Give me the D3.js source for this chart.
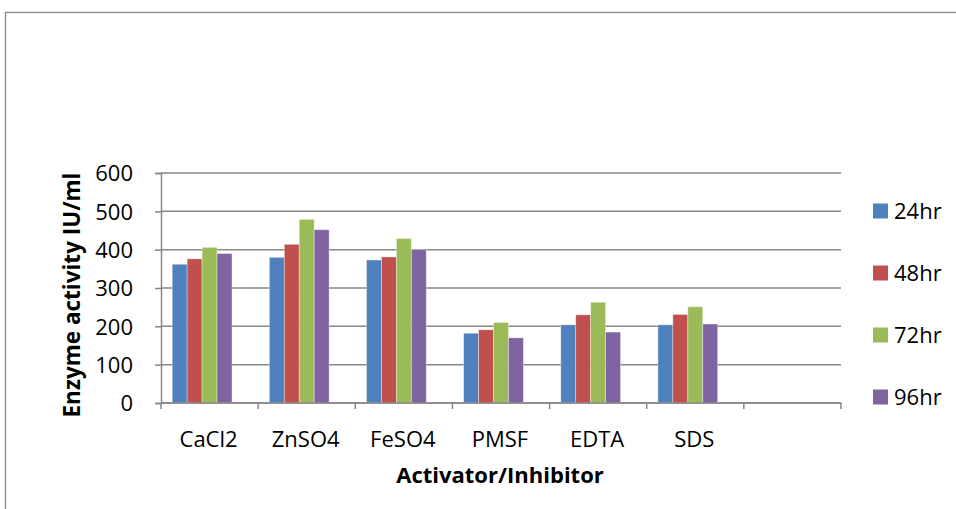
<!DOCTYPE html>
<html>
<head>
<meta charset="utf-8">
<script src="https://cdn.jsdelivr.net/npm/d3@7"></script>
<style>
  html, body { margin: 0; padding: 0; background: #fff; }
  svg { display: block; }
  text { font-family: "Open Sans", "Noto Sans", sans-serif; fill: #000; }
</style>
</head>
<body>
<svg id="chart" width="956" height="509"></svg>
<script>
// Enzyme activity (IU/ml) by activator/inhibitor and incubation time
const categories = ["CaCl2", "ZnSO4", "FeSO4", "PMSF", "EDTA", "SDS", ""];
const seriesNames = ["24hr", "48hr", "72hr", "96hr"];
const values24 = [362, 380, 373, 182, 204, 204];
const values48 = [376, 414, 381, 191, 230, 231];
const values72 = [406, 479, 429, 210, 263, 251];
const values96 = [390, 452, 400, 170, 185, 206];
const yTicks = [0, 100, 200, 300, 400, 500, 600];
const colors = ["#4F81BD", "#C0504D", "#9BBB59", "#8064A2"];

const seriesValues = [values24, values48, values72, values96];

const svg = d3.select("#chart");
const W = 956, H = 509;

// outer chart frame
svg.append("rect")
  .attr("x", 5.5).attr("y", 12.5)
  .attr("width", W + 10).attr("height", H + 10)
  .attr("fill", "none").attr("stroke", "#8a8a8a").attr("stroke-width", 1.3);

const plot = { left: 161, right: 841, top: 173, bottom: 403 };

const y = d3.scaleLinear().domain([0, 600]).range([plot.bottom, plot.top]);
const x0 = d3.scaleBand().domain(categories).range([plot.left, plot.right])
  .paddingInner(0).paddingOuter(0);
// one spare slot per category (an empty fifth series column)
const x1 = d3.scaleBand().domain([...seriesNames, "_"]).range([0, x0.bandwidth()])
  .paddingInner(0).paddingOuter(0.75);

// horizontal gridlines
svg.append("g")
  .selectAll("line").data(yTicks).join("line")
  .attr("x1", plot.left).attr("x2", plot.right)
  .attr("y1", d => y(d)).attr("y2", d => y(d))
  .attr("stroke", "#878787").attr("stroke-width", 1.5);

// bars
const groups = svg.append("g").selectAll("g")
  .data(categories.filter(c => c !== ""))
  .join("g")
  .attr("transform", c => `translate(${x0(c)},0)`);

groups.selectAll("rect")
  .data((c, ci) => seriesNames.map((s, si) => ({ s, si, v: seriesValues[si][ci] })))
  .join("rect")
  .attr("x", d => x1(d.s))
  .attr("width", x1.bandwidth())
  .attr("y", d => y(d.v))
  .attr("height", d => y(0) - y(d.v))
  .attr("fill", d => colors[d.si])
  .attr("stroke", "rgba(255,255,255,0.45)")
  .attr("stroke-width", 0.8);

// y axis
const yAxis = d3.axisLeft(y).tickValues(yTicks).tickSize(6).tickPadding(22);
const gy = svg.append("g").attr("transform", `translate(${plot.left},0)`).call(yAxis);
gy.select(".domain").attr("stroke", "#878787").attr("stroke-width", 1.5);
gy.selectAll(".tick line").attr("stroke", "#878787").attr("stroke-width", 1.5);
gy.selectAll(".tick text")
  .attr("font-family", "'Open Sans', sans-serif")
  .attr("font-size", 22).attr("fill", "#000").attr("dy", "0.36em");

// x axis: ticks at band boundaries
const xAxis = svg.append("g");
xAxis.append("line")
  .attr("x1", plot.left).attr("x2", plot.right)
  .attr("y1", plot.bottom).attr("y2", plot.bottom)
  .attr("stroke", "#878787").attr("stroke-width", 1.5);
const boundaries = categories.map(c => x0(c)).concat([plot.right]);
xAxis.selectAll("line.tk").data(boundaries).join("line")
  .attr("class", "tk")
  .attr("x1", d => d).attr("x2", d => d)
  .attr("y1", plot.bottom).attr("y2", plot.bottom + 6)
  .attr("stroke", "#878787").attr("stroke-width", 1.5);
xAxis.selectAll("text").data(categories).join("text")
  .attr("x", c => x0(c) + x0.bandwidth() / 2 - 1)
  .attr("y", 447)
  .attr("text-anchor", "middle")
  .attr("font-size", 22)
  .text(c => c);

// axis titles
svg.append("text")
  .attr("x", 500).attr("y", 483)
  .attr("text-anchor", "middle")
  .attr("font-size", 22).attr("font-weight", "bold")
  .text("Activator/Inhibitor");

svg.append("text")
  .attr("transform", `translate(80,295) rotate(-90)`)
  .attr("text-anchor", "middle")
  .attr("font-size", 22.5).attr("font-weight", "bold")
  .text("Enzyme activity IU/ml");

// legend
const legendY = [211, 273, 335, 397];
const legend = svg.append("g").selectAll("g").data(seriesNames).join("g")
  .attr("transform", (d, i) => `translate(873,${legendY[i]})`);
legend.append("rect")
  .attr("x", 0).attr("y", -7.5).attr("width", 15).attr("height", 15)
  .attr("fill", (d, i) => colors[i]);
legend.append("text")
  .attr("x", 21).attr("y", 8)
  .attr("font-size", 22)
  .text(d => d);
</script>
</body>
</html>
